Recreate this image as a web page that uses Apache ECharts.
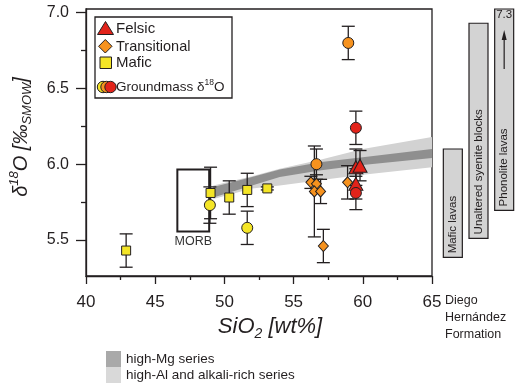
<!DOCTYPE html>
<html>
<head>
<meta charset="utf-8">
<script src="https://cdn.jsdelivr.net/npm/echarts@6/dist/echarts.min.js"></script>
<style>
  html, body { margin: 0; padding: 0; background: #fff; }
  #chart { width: 517px; height: 386px; }
</style>
</head>
<body>
<div id="chart"></div>
<script>
// [SiO2, d18O, error]
const mafic = [[42.9, 5.43, 0.11], [49.0, 5.81, 0.17], [50.35, 5.78, 0.11], [51.65, 5.83, 0.11], [53.1, 5.84, 0.01]]
const maficGm = [[48.95, 5.73, 0.12], [51.65, 5.58, 0.11]]
const transitional = [[56.25, 5.88, 0.04], [56.65, 5.87, 0.06], [56.5, 5.82, 0.3], [56.95, 5.82, 0.08], [57.15, 5.46, 0.11], [58.9, 5.88, 0.11]]
const transitionalGm = [[56.65, 6.0, 0.1], [58.95, 6.8, 0.11]]
const felsic = [[59.5, 5.98, 0.12], [59.8, 5.99, 0.1], [59.5, 5.87, 0.1]]
const felsicGm = [[59.5, 6.24, 0.11], [59.5, 5.81, 0.11]]

// trend bands
const bandX = [49.2, 52, 54, 57, 60, 65]
const highMgLow = [5.78, 5.86, 5.915, 5.96, 5.995, 6.04]
const highMgHigh = [5.85, 5.915, 5.965, 6.015, 6.045, 6.10]
const highAlLow = [5.77, 5.84, 5.86, 5.895, 5.93, 5.98]
const highAlHigh = [5.86, 5.92, 5.97, 6.03, 6.10, 6.18]

// MORB box [xMin, xMax, yMin, yMax]
const morb = [46.6, 48.9, 5.556, 5.965]

// Diego Hernández Formation ranges
const rangeNames = ['Mafic lavas', 'Unaltered syenite blocks', 'Phonolite lavas']
const rangeLow = [5.385, 5.51, 5.695]
const rangeHigh = [6.10, 6.93, 7.3]

const yTicks = [5.5, 6.0, 6.5, 7.0]
const yMinorTicks = [5.75, 6.25, 6.75]
const Y_MIN = 5.262
const Y_MAX = 7.024

const FONT = '"Liberation Sans", Arial, Helvetica, sans-serif'
const INK = '#231f20'
const RED = '#e2231a'
const ORANGE = '#f6921e'
const YELLOW = '#f4e526'

const chart = echarts.init(document.getElementById('chart'))

const xy = arr => arr.map(d => [d[0], d[1]])

function errorBars (params, api) {
  const x = api.value(0)
  const y = api.value(1)
  const e = api.value(2)
  const a = api.coord([x, y + e])
  const b = api.coord([x, y - e])
  const hw = 6.5
  const st = { stroke: INK, lineWidth: 1.3 }
  return {
    type: 'group',
    children: [
      { type: 'line', shape: { x1: a[0], y1: a[1], x2: b[0], y2: b[1] }, style: st },
      { type: 'line', shape: { x1: a[0] - hw, y1: a[1], x2: a[0] + hw, y2: a[1] }, style: st },
      { type: 'line', shape: { x1: b[0] - hw, y1: b[1], x2: b[0] + hw, y2: b[1] }, style: st }
    ]
  }
}

function band (lo, hi, color) {
  return function (params, api) {
    if (params.dataIndex !== 0) return
    const pts = []
    bandX.forEach((x, i) => pts.push(api.coord([x, hi[i]])))
    for (let i = bandX.length - 1; i >= 0; i--) pts.push(api.coord([bandX[i], lo[i]]))
    return { type: 'polygon', shape: { points: pts }, style: { fill: color } }
  }
}

function rangeBox (params, api) {
  const i = api.value(0)
  const lo = api.value(1)
  const hi = api.value(2)
  const top = api.coord([i, Math.min(hi, Y_MAX)])
  const bot = api.coord([i, lo])
  const w = 19
  const children = [
    { type: 'rect', shape: { x: top[0] - w / 2, y: top[1], width: w, height: bot[1] - top[1] }, style: { fill: '#d3d3d3', stroke: INK, lineWidth: 1.2 } },
    { type: 'text', x: bot[0], y: bot[1] - 4, rotation: Math.PI / 2, style: { text: rangeNames[i], fontSize: 11.5, fontFamily: FONT, fill: INK, align: 'left', verticalAlign: 'middle' } }
  ]
  if (hi > Y_MAX) {
    children.push(
      { type: 'text', x: top[0], y: top[1] + 6, style: { text: String(hi), fontSize: 11.5, fontFamily: FONT, fill: INK, align: 'center', verticalAlign: 'middle' } },
      { type: 'line', shape: { x1: top[0], y1: top[1] + 60, x2: top[0], y2: top[1] + 28 }, style: { stroke: INK, lineWidth: 1.2 } },
      { type: 'polygon', shape: { points: [[top[0], top[1] + 21], [top[0] - 2.5, top[1] + 31], [top[0] + 2.5, top[1] + 31]] }, style: { fill: INK } }
    )
  }
  return { type: 'group', children }
}

function morbBox (params, api) {
  const a = api.coord([api.value(0), api.value(3)])
  const b = api.coord([api.value(1), api.value(2)])
  return {
    type: 'group',
    children: [
      { type: 'rect', shape: { x: a[0], y: a[1], width: b[0] - a[0], height: b[1] - a[1] }, style: { fill: 'none', stroke: INK, lineWidth: 2 } },
      { type: 'text', x: (a[0] + b[0]) / 2, y: b[1] + 4, style: { text: 'MORB', fontSize: 12.5, fontFamily: FONT, fill: '#333', align: 'center', verticalAlign: 'top' } }
    ]
  }
}

const axisLineStyle = { color: INK, width: 1.3 }

const option = {
  animation: false,
  textStyle: { fontFamily: FONT, color: INK },
  grid: [
    { left: 86, right: 85, top: 9, bottom: 110, show: true, borderColor: INK, borderWidth: 1.3, backgroundColor: 'transparent' },
    { left: 440, width: 77, top: 9, bottom: 110 }
  ],
  xAxis: [
    {
      type: 'value',
      gridIndex: 0,
      min: 40,
      max: 65,
      interval: 5,
      name: '{i|SiO}{s|2}{i| [wt%]}',
      nameLocation: 'middle',
      nameGap: 31,
      nameTextStyle: {
        padding: [0, 0, 0, 22],
        rich: {
          i: { fontSize: 22, fontStyle: 'italic', fontFamily: FONT, color: INK, lineHeight: 28, verticalAlign: 'middle' },
          s: { fontSize: 14, fontStyle: 'italic', fontFamily: FONT, color: INK, lineHeight: 12, verticalAlign: 'bottom' }
        }
      },
      axisLine: { lineStyle: axisLineStyle },
      axisTick: { length: 8, lineStyle: axisLineStyle },
      minorTick: { show: true, splitNumber: 2, length: 4, lineStyle: axisLineStyle },
      axisLabel: { fontSize: 17, color: INK, margin: 18 },
      splitLine: { show: false }
    },
    { type: 'category', gridIndex: 1, data: rangeNames, show: false }
  ],
  yAxis: [
    {
      type: 'value',
      gridIndex: 0,
      min: Y_MIN,
      max: Y_MAX,
      axisLine: { show: true, lineStyle: axisLineStyle },
      axisTick: { show: true, length: 10, customValues: yTicks, lineStyle: axisLineStyle },
      axisLabel: { fontSize: 16, color: INK, margin: 17, customValues: yTicks, formatter: v => v.toFixed(1) },
      splitLine: { show: false }
    },
    {
      type: 'value',
      gridIndex: 0,
      position: 'left',
      min: Y_MIN,
      max: Y_MAX,
      axisLine: { show: false },
      axisTick: { show: true, length: 5, customValues: yMinorTicks, lineStyle: axisLineStyle },
      axisLabel: { show: false },
      splitLine: { show: false }
    },
    { type: 'value', gridIndex: 1, min: Y_MIN, max: Y_MAX, show: false }
  ],
  legend: {
    left: 106,
    top: 351,
    padding: 0,
    orient: 'vertical',
    icon: 'rect',
    itemWidth: 15,
    itemHeight: 16,
    itemGap: 0,
    selectedMode: false,
    textStyle: { fontSize: 13.5, lineHeight: 16, color: INK, fontFamily: FONT },
    data: [
      { name: 'high-Mg series', itemStyle: { color: '#a9a9a9' } },
      { name: 'high-Al and alkali-rich series', itemStyle: { color: '#d9d9d9' } }
    ]
  },
  graphic: [
    // y axis title
    {
      type: 'text',
      x: 21,
      y: 137,
      rotation: Math.PI / 2,
      style: {
        text: '{i|δ}{p|18}{i|O [‰}{s|SMOW}{i|]}',
        align: 'center',
        verticalAlign: 'middle',
        fontFamily: FONT,
        fill: INK,
        rich: {
          i: { fontSize: 20, fontStyle: 'italic', fontFamily: FONT, color: INK, lineHeight: 26, verticalAlign: 'middle' },
          p: { fontSize: 13, fontStyle: 'italic', fontFamily: FONT, color: INK, lineHeight: 12, verticalAlign: 'top' },
          s: { fontSize: 13, fontStyle: 'italic', fontFamily: FONT, color: INK, lineHeight: 12, verticalAlign: 'bottom' }
        }
      }
    },
    { type: 'rect', shape: { x: 95, y: 17, width: 137, height: 81 }, style: { fill: '#fff', stroke: INK, lineWidth: 1.3 }, z: 100 },
    { type: 'polygon', shape: { points: [[97.5, 34.5], [105.5, 21.5], [113.5, 34.5]] }, style: { fill: RED, stroke: INK, lineWidth: 1 }, z: 101 },
    { type: 'text', x: 116, y: 29, style: { text: 'Felsic', fontSize: 15, fontFamily: FONT, fill: INK, verticalAlign: 'middle' }, z: 101 },
    { type: 'polygon', shape: { points: [[105.3, 39.5], [112, 46.3], [105.3, 53], [98.6, 46.3]] }, style: { fill: ORANGE, stroke: INK, lineWidth: 1 }, z: 101 },
    { type: 'text', x: 116, y: 46.5, style: { text: 'Transitional', fontSize: 14.5, fontFamily: FONT, fill: INK, verticalAlign: 'middle' }, z: 101 },
    { type: 'rect', shape: { x: 100, y: 57, width: 11.5, height: 11.5 }, style: { fill: YELLOW, stroke: INK, lineWidth: 1 }, z: 101 },
    { type: 'text', x: 116, y: 63, style: { text: 'Mafic', fontSize: 15, fontFamily: FONT, fill: INK, verticalAlign: 'middle' }, z: 101 },
    { type: 'circle', shape: { cx: 103, cy: 87, r: 5.7 }, style: { fill: YELLOW, stroke: INK, lineWidth: 1 }, z: 101 },
    { type: 'circle', shape: { cx: 106.5, cy: 87, r: 5.7 }, style: { fill: ORANGE, stroke: INK, lineWidth: 1 }, z: 102 },
    { type: 'circle', shape: { cx: 110.5, cy: 87, r: 5.7 }, style: { fill: RED, stroke: INK, lineWidth: 1 }, z: 103 },
    {
      type: 'text',
      x: 116,
      y: 87,
      style: {
        text: '{a|Groundmass δ}{s|18}{a|O}',
        fontFamily: FONT,
        fill: INK,
        verticalAlign: 'middle',
        rich: {
          a: { fontSize: 13.5, fontFamily: FONT, color: INK, lineHeight: 18, verticalAlign: 'middle' },
          s: { fontSize: 8.5, fontFamily: FONT, color: INK, lineHeight: 10, verticalAlign: 'top' }
        }
      },
      z: 104
    },
    { type: 'text', x: 445, y: 292, style: { text: 'Diego\nHernández\nFormation', fontSize: 12.5, lineHeight: 17, fontFamily: FONT, fill: INK } }
  ],
  series: [
    { type: 'custom', name: 'high-Al and alkali-rich series', xAxisIndex: 0, yAxisIndex: 0, data: [[bandX[0], highAlLow[0]]], renderItem: band(highAlLow, highAlHigh, '#d2d2d2'), itemStyle: { color: '#d9d9d9' }, silent: true, z: 1 },
    { type: 'custom', name: 'high-Mg series', xAxisIndex: 0, yAxisIndex: 0, data: [[bandX[0], highMgLow[0]]], renderItem: band(highMgLow, highMgHigh, '#8f8f8f'), itemStyle: { color: '#a9a9a9' }, silent: true, z: 2 },
    { type: 'custom', xAxisIndex: 0, yAxisIndex: 0, data: [morb], encode: { x: [0, 1], y: [2, 3] }, renderItem: morbBox, silent: true, z: 3 },
    { type: 'custom', xAxisIndex: 0, yAxisIndex: 0, data: [].concat(mafic, maficGm, transitional, transitionalGm, felsic, felsicGm), renderItem: errorBars, silent: true, z: 4 },
    { type: 'scatter', name: 'Mafic', data: xy(mafic), symbol: 'rect', symbolSize: 9, itemStyle: { color: YELLOW, borderColor: INK, borderWidth: 1, opacity: 1 }, z: 5 },
    { type: 'scatter', name: 'Mafic groundmass', data: xy(maficGm), symbol: 'circle', symbolSize: 11, itemStyle: { color: YELLOW, borderColor: INK, borderWidth: 1, opacity: 1 }, z: 5 },
    { type: 'scatter', name: 'Transitional', data: xy(transitional), symbol: 'diamond', symbolSize: [10, 11], itemStyle: { color: ORANGE, borderColor: INK, borderWidth: 1, opacity: 1 }, z: 6 },
    { type: 'scatter', name: 'Transitional groundmass', data: xy(transitionalGm), symbol: 'circle', symbolSize: 11, itemStyle: { color: ORANGE, borderColor: INK, borderWidth: 1, opacity: 1 }, z: 6 },
    { type: 'scatter', name: 'Felsic', data: xy(felsic), symbol: 'triangle', symbolSize: [14, 13], itemStyle: { color: RED, borderColor: INK, borderWidth: 1, opacity: 1 }, z: 7 },
    { type: 'scatter', name: 'Felsic groundmass', data: xy(felsicGm), symbol: 'circle', symbolSize: 11, itemStyle: { color: RED, borderColor: INK, borderWidth: 1, opacity: 1 }, z: 7 },
    { type: 'custom', xAxisIndex: 1, yAxisIndex: 2, data: rangeNames.map((n, i) => [i, rangeLow[i], rangeHigh[i]]), encode: { x: 0, y: [1, 2] }, renderItem: rangeBox, silent: true, z: 2 }
  ]
}

chart.setOption(option)
</script>
</body>
</html>
